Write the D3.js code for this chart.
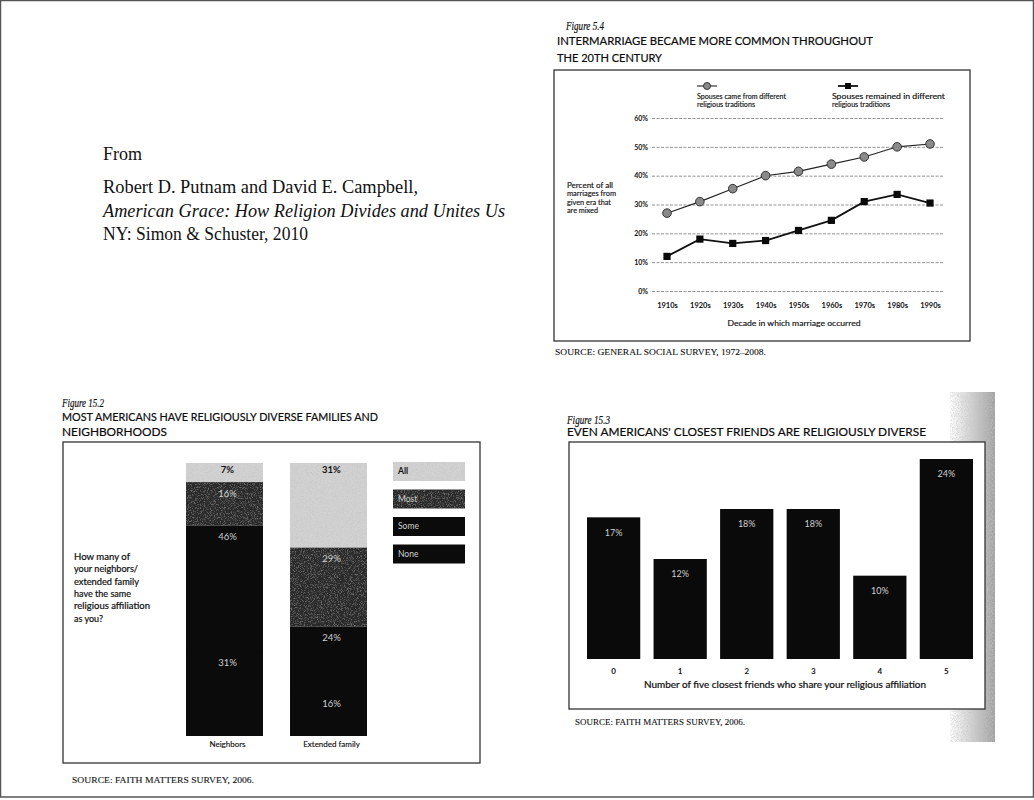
<!DOCTYPE html>
<html>
<head>
<meta charset="utf-8">
<script src="https://cdn.jsdelivr.net/npm/d3@7"></script>
<style>
  html, body { margin: 0; padding: 0; background: #ffffff; }
  svg { display: block; }
</style>
</head>
<body>
<div id="chart"></div>
<script>
// ---------------- DATA ----------------
// Figure 5.4
const decades = ["1910s", "1920s", "1930s", "1940s", "1950s", "1960s", "1970s", "1980s", "1990s"];
const cameFromDifferent = [27, 31, 35.5, 40, 41.5, 44, 46.5, 50, 51];
const remainedDifferent = [12, 18, 16.5, 17.5, 21, 24.5, 31, 33.5, 30.5];
const marriageTicks = [0, 10, 20, 30, 40, 50, 60];
const marriageSeriesNames = ["Spouses came from different religious traditions", "Spouses remained in different religious traditions"];

// Figure 15.2
const diversityGroups = ["Neighbors", "Extended family"];
const shareLevels = ["All", "Most", "Some", "None"];
const neighborsShares = [7, 16, 46, 31];
const familyShares = [31, 29, 24, 16];

// Figure 15.3
const friendCounts = ["0", "1", "2", "3", "4", "5"];
const friendShares = [17, 12, 18, 18, 10, 24];

// ---------------- SETUP ----------------
const W = 1034, H = 800;
const svg = d3.select("#chart").append("svg").attr("width", W).attr("height", H);
const sans = "Lato, 'Open Sans', sans-serif";
const serif = "'Liberation Serif', 'DejaVu Serif', serif";

const defs = svg.append("defs");
function makeGrain(id, gray, alphaScale, alphaShift, freq) {
  const f = defs.append("filter").attr("id", id).attr("x", 0).attr("y", 0).attr("width", 1).attr("height", 1);
  f.append("feTurbulence").attr("type", "fractalNoise").attr("baseFrequency", freq).attr("numOctaves", 1).attr("seed", 3).attr("result", "noise");
  f.append("feColorMatrix").attr("in", "noise").attr("type", "matrix")
    .attr("values", `0 0 0 0 ${gray}  0 0 0 0 ${gray}  0 0 0 0 ${gray}  ${alphaScale} 0 0 0 ${alphaShift}`).attr("result", "spots");
  f.append("feComposite").attr("in", "spots").attr("in2", "SourceAlpha").attr("operator", "in").attr("result", "spotsIn");
  f.append("feMerge").call(m => { m.append("feMergeNode").attr("in", "SourceGraphic"); m.append("feMergeNode").attr("in", "spotsIn"); });
}
makeGrain("grainLight", 0.55, 1.8, -0.75, 1.2);
makeGrain("grainDark", 0.45, 1.2, -0.6, 1.3);

const shadowGrad = defs.append("linearGradient").attr("id", "shadow").attr("x1", 0).attr("x2", 1).attr("y1", 0).attr("y2", 0);
shadowGrad.append("stop").attr("offset", "0%").attr("stop-color", "#ffffff");
shadowGrad.append("stop").attr("offset", "40%").attr("stop-color", "#d8d8d8");
shadowGrad.append("stop").attr("offset", "100%").attr("stop-color", "#a0a0a0");

function txt(g, x, y, s, o = {}) {
  const t = g.append("text").attr("x", x).attr("y", y).text(s)
    .attr("font-family", o.family || sans)
    .attr("font-size", o.size || 10)
    .attr("fill", o.fill || "#111")
    .attr("text-anchor", o.anchor || "start")
    .attr("dominant-baseline", "middle");
  if (o.weight) t.attr("font-weight", o.weight);
  if (o.style) t.attr("font-style", o.style);
  if (o.len) t.attr("textLength", o.len).attr("lengthAdjust", "spacingAndGlyphs");
  if (o.thick) t.attr("stroke", o.fill || "#111").attr("stroke-width", o.thick);
  return t;
}

// page frame
svg.append("rect").attr("x", 0.5).attr("y", 0.5).attr("width", W - 1).attr("height", H - 3.5)
  .attr("fill", "none").attr("stroke", "#555").attr("stroke-width", 1.5);

// ---------------- CITATION ----------------
const cite = svg.append("g");
txt(cite, 103, 156, "From", { family: serif, size: 18 });
txt(cite, 103, 189, "Robert D. Putnam and David E. Campbell,", { family: serif, size: 18, len: 315 });
txt(cite, 103, 213, "American Grace: How Religion Divides and Unites Us", { family: serif, size: 18, style: "italic", len: 402 });
txt(cite, 103, 236, "NY: Simon & Schuster, 2010", { family: serif, size: 18, len: 205 });

// ---------------- FIGURE 5.4 ----------------
const f1 = svg.append("g");
txt(f1, 566, 27, "Figure 5.4", { family: serif, size: 11.5, style: "italic", len: 38, thick: 0.2 });
txt(f1, 557, 42, "INTERMARRIAGE BECAME MORE COMMON THROUGHOUT", { size: 11.5, len: 316, fill: "#0a0a0a", thick: 0.2 });
txt(f1, 557, 59, "THE 20TH CENTURY", { size: 11.5, len: 105, fill: "#0a0a0a", thick: 0.2 });
f1.append("rect").attr("x", 554).attr("y", 70).attr("width", 416).attr("height", 271)
  .attr("fill", "none").attr("stroke", "#333").attr("stroke-width", 1.3);

const x1 = d3.scalePoint().domain(decades).range([667, 930]);
const y1 = d3.scaleLinear().domain([0, 60]).range([291, 118]);

const yAxis1 = f1.append("g").attr("transform", "translate(652,0)")
  .call(d3.axisLeft(y1).tickValues(marriageTicks).tickFormat(d => d + "%").tickSize(-292).tickPadding(4));
yAxis1.select(".domain").remove();
yAxis1.selectAll(".tick line").attr("stroke", "#777").attr("stroke-width", 0.8).attr("stroke-dasharray", "3,1.5");
yAxis1.selectAll(".tick text").attr("font-family", sans).attr("font-size", 7).attr("font-weight", "bold").attr("fill", "#111");

const xAxis1 = f1.append("g").attr("transform", "translate(0,301)")
  .call(d3.axisBottom(x1).tickSize(0).tickPadding(2));
xAxis1.select(".domain").remove();
xAxis1.selectAll(".tick text").attr("font-family", sans).attr("font-size", 7.5).attr("font-weight", "bold").attr("fill", "#111");

txt(f1, 794, 324, "Decade in which marriage occurred", { size: 7.5, anchor: "middle", len: 133, thick: 0.15 });
["Percent of all", "marriages from", "given era that", "are mixed"].forEach((s, i) =>
  txt(f1, 567, 186 + i * 8.5, s, { size: 7, len: [46, 49, 44, 31][i], thick: 0.15 }));

const line1 = d3.line().x((d, i) => x1(decades[i])).y(d => y1(d));
f1.append("path").datum(cameFromDifferent).attr("d", line1).attr("fill", "none").attr("stroke", "#222").attr("stroke-width", 1.1);
f1.append("path").datum(remainedDifferent).attr("d", line1).attr("fill", "none").attr("stroke", "#111").attr("stroke-width", 1.8);
f1.selectAll("circle.s1").data(cameFromDifferent).join("circle").attr("class", "s1")
  .attr("cx", (d, i) => x1(decades[i])).attr("cy", d => y1(d)).attr("r", 4.3)
  .attr("fill", "#8a8a8a").attr("stroke", "#333").attr("stroke-width", 1);
f1.selectAll("rect.s2").data(remainedDifferent).join("rect").attr("class", "s2")
  .attr("x", (d, i) => x1(decades[i]) - 3.6).attr("y", d => y1(d) - 3.6).attr("width", 7.2).attr("height", 7.2)
  .attr("fill", "#0a0a0a");

// legend
const lg1 = f1.append("g");
lg1.append("line").attr("x1", 697).attr("x2", 717).attr("y1", 86).attr("y2", 86).attr("stroke", "#222").attr("stroke-width", 1.1);
lg1.append("circle").attr("cx", 707).attr("cy", 86).attr("r", 3.5).attr("fill", "#8a8a8a").attr("stroke", "#333");
lg1.append("line").attr("x1", 838).attr("x2", 858).attr("y1", 86).attr("y2", 86).attr("stroke", "#111").attr("stroke-width", 1.8);
lg1.append("rect").attr("x", 845).attr("y", 83).attr("width", 6).attr("height", 6).attr("fill", "#0a0a0a");
txt(lg1, 697, 97, "Spouses came from different", { size: 7, len: 89, thick: 0.15 });
txt(lg1, 697, 105.5, "religious traditions", { size: 7, len: 58, thick: 0.15 });
txt(lg1, 832, 97, "Spouses remained in different", { size: 7, len: 113, thick: 0.15 });
txt(lg1, 832, 105.5, "religious traditions", { size: 7, len: 58, thick: 0.15 });

txt(f1, 555, 353, "SOURCE: GENERAL SOCIAL SURVEY, 1972–2008.", { family: serif, size: 8.5, len: 211, thick: 0.1 });

// ---------------- FIGURE 15.2 ----------------
const f2 = svg.append("g");
txt(f2, 62, 404, "Figure 15.2", { family: serif, size: 11.5, style: "italic", len: 42, thick: 0.2 });
txt(f2, 62, 418, "MOST AMERICANS HAVE RELIGIOUSLY DIVERSE FAMILIES AND", { size: 11.5, len: 316, fill: "#0a0a0a", thick: 0.2 });
txt(f2, 62, 433, "NEIGHBORHOODS", { size: 11.5, len: 105, fill: "#0a0a0a", thick: 0.2 });
f2.append("rect").attr("x", 63).attr("y", 442).attr("width", 417).attr("height", 321)
  .attr("fill", "none").attr("stroke", "#333").attr("stroke-width", 1.3);

const levelFill = { All: "#d2d2d2", Most: "#2a2a2a", Some: "#0b0b0b", None: "#0b0b0b" };
const levelText = { All: "#111", Most: "#d0d0d0", Some: "#cfcfcf", None: "#cfcfcf" };
const levelGrain = { All: "url(#grainLight)", Most: "url(#grainDark)", Some: null, None: null };
const x2 = d3.scaleBand().domain(diversityGroups).range([186, 367]).paddingInner(0.26).paddingOuter(0);
const y2 = d3.scaleLinear().domain([0, 100]).range([736, 463]);
const groupValues = [neighborsShares, familyShares];
diversityGroups.forEach((grp, gi) => {
  const vals = groupValues[gi];
  let cum = 0;
  const segs = shareLevels.map((lvl, li) => {
    const s = { lvl, v: vals[li], top: cum, bottom: cum + vals[li] };
    cum += vals[li];
    return s;
  });
  const g = f2.append("g");
  g.selectAll("rect").data(segs).join("rect")
    .attr("x", x2(grp)).attr("width", x2.bandwidth())
    .attr("y", d => y2(100 - d.top)).attr("height", d => y2(100 - d.bottom) - y2(100 - d.top) + (d.lvl === "Some" ? 1 : 0))
    .attr("fill", d => levelFill[d.lvl])
    .attr("filter", d => levelGrain[d.lvl]);
  g.selectAll("text").data(segs).join("text")
    .attr("x", x2(grp) + x2.bandwidth() / 2 + 3)
    .attr("y", d => y2(100 - d.top) + (d.lvl === "All" ? 8 : 12))
    .attr("text-anchor", "middle").attr("dominant-baseline", "middle")
    .attr("font-family", sans).attr("font-size", 9.5)
    .attr("font-weight", d => d.lvl === "All" ? "bold" : "normal")
    .attr("fill", d => levelText[d.lvl])
    .text(d => d.v + "%");
  txt(f2, x2(grp) + x2.bandwidth() / 2 + 3, 745, grp, { size: 8, anchor: "middle", thick: 0.15 });
});

// legend
const lg2 = f2.append("g");
shareLevels.forEach((lvl, i) => {
  lg2.append("rect").attr("x", 393).attr("y", 462 + i * 27.5).attr("width", 72).attr("height", 19)
    .attr("fill", levelFill[lvl]).attr("filter", levelGrain[lvl]);
  txt(lg2, 398, 472 + i * 27.5, lvl, { size: 8.5, fill: levelText[lvl], weight: lvl === "All" ? "bold" : null });
});

["How many of", "your neighbors/", "extended family", "have the same", "religious affiliation", "as you?"].forEach((s, i) =>
  txt(f2, 74, 558 + i * 12.3, s, { size: 8.5, fill: "#111", len: [56, 64, 65, 57, 76, 29][i], thick: 0.2 }));

txt(f2, 72, 781, "SOURCE: FAITH MATTERS SURVEY, 2006.", { family: serif, size: 8.5, len: 182, thick: 0.1 });

// ---------------- FIGURE 15.3 ----------------
const f3 = svg.append("g");
// scanner shadow
f3.append("rect").attr("x", 950).attr("y", 392).attr("width", 45).attr("height", 350).attr("fill", "url(#shadow)").attr("filter", "url(#grainLight)");
txt(f3, 567, 421, "Figure 15.3", { family: serif, size: 11.5, style: "italic", len: 43, thick: 0.2 });
txt(f3, 567, 433, "EVEN AMERICANS' CLOSEST FRIENDS ARE RELIGIOUSLY DIVERSE", { size: 11.5, len: 359, fill: "#0a0a0a", thick: 0.2 });
f3.append("rect").attr("x", 569).attr("y", 442).attr("width", 416).attr("height", 267)
  .attr("fill", "#fff").attr("stroke", "#333").attr("stroke-width", 1.3);

const x3 = d3.scaleBand().domain(friendCounts).range([587, 973]).paddingInner(0.2).paddingOuter(0);
const y3 = d3.scaleLinear().domain([0, 24]).range([659, 459]);
f3.selectAll("rect.bar").data(friendShares).join("rect").attr("class", "bar")
  .attr("x", (d, i) => x3(friendCounts[i])).attr("width", x3.bandwidth())
  .attr("y", d => y3(d)).attr("height", d => y3(0) - y3(d)).attr("fill", "#0a0a0a");
f3.selectAll("text.val").data(friendShares).join("text").attr("class", "val")
  .attr("x", (d, i) => x3(friendCounts[i]) + x3.bandwidth() / 2).attr("y", d => y3(d) + 16)
  .attr("text-anchor", "middle").attr("dominant-baseline", "middle")
  .attr("font-family", sans).attr("font-size", 9).attr("fill", "#cfcfcf").text(d => d + "%");
const xAxis3 = f3.append("g").attr("transform", "translate(0,666)")
  .call(d3.axisBottom(x3).tickSize(0).tickPadding(2));
xAxis3.select(".domain").remove();
xAxis3.selectAll(".tick text").attr("font-family", sans).attr("font-size", 8).attr("font-weight", "bold").attr("fill", "#111");
txt(f3, 785, 686, "Number of five closest friends who share your religious affiliation", { size: 8.5, anchor: "middle", len: 282, thick: 0.2 });

txt(f3, 575, 723, "SOURCE: FAITH MATTERS SURVEY, 2006.", { family: serif, size: 8.5, len: 170, thick: 0.1 });
</script>
</body>
</html>
